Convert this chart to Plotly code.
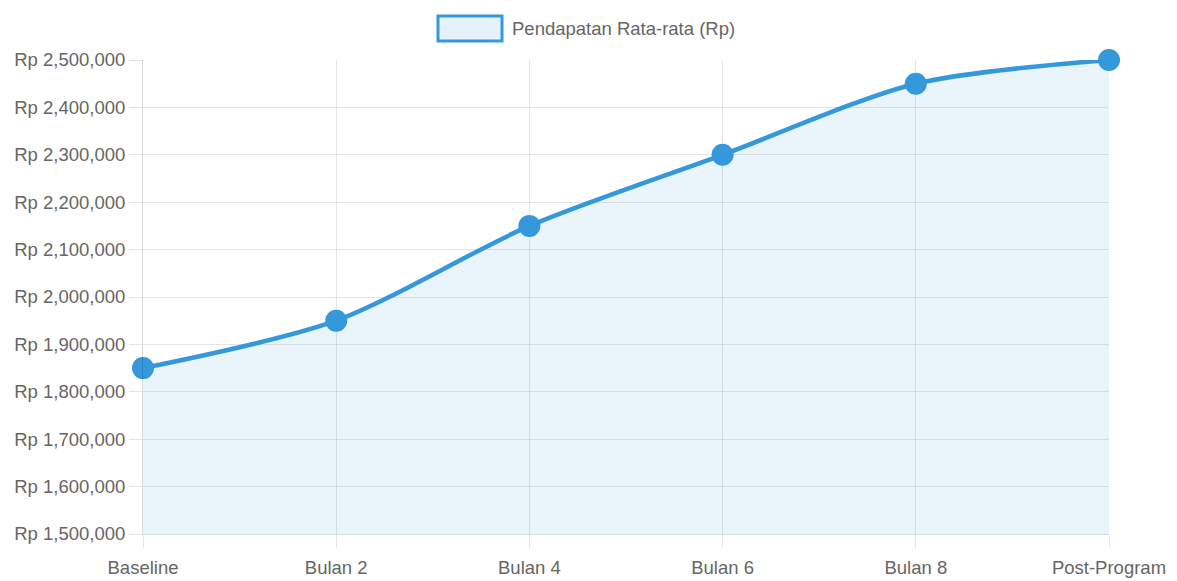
import plotly.graph_objects as go

categories = ["Baseline", "Bulan 2", "Bulan 4", "Bulan 6", "Bulan 8", "Post-Program"]
income = [1850000, 1950000, 2150000, 2300000, 2450000, 2500000]
series_name = "Pendapatan Rata-rata (Rp)"
y_ticks = [1500000, 1600000, 1700000, 1800000, 1900000, 2000000,
           2100000, 2200000, 2300000, 2400000, 2500000]
y_ticktext = ["Rp " + f"{v:,}" for v in y_ticks]

blue = "rgb(52,152,219)"
fill = "rgba(52,152,219,0.11)"
grid = "rgba(0,0,0,0.1)"
FAM = "Liberation Sans, Arial, sans-serif"
font = dict(family=FAM, size=18.5, color="#666")

OFF = 8  # page body margin
W, H = 1177, 581
pw, ph = 966, 474
L, T = 143 - OFF, 60 - OFF
R, B = W - L - pw, H - T - ph

fig = go.Figure()
fig.add_trace(go.Scatter(
    x=list(range(len(categories))), y=income, mode="lines+markers", name=series_name,
    line=dict(color=blue, width=4.5, shape="spline", smoothing=0.8),
    marker=dict(size=22, color=blue, line=dict(width=0)),
    fill="tozeroy", fillcolor=fill, cliponaxis=False, showlegend=False,
))

# legend drawn as box + text (Chart.js style); positions given in page pixels
def px_x(px):
    return (px - OFF - L) / pw

def px_y(py):
    return (T + ph - (py - OFF)) / ph

fig.add_shape(type="rect", xref="paper", yref="paper",
              x0=px_x(438), x1=px_x(502), y0=px_y(41), y1=px_y(16),
              line=dict(color=blue, width=3), fillcolor="rgba(52,152,219,0.12)")
fig.add_annotation(xref="paper", yref="paper", x=px_x(510), y=px_y(28.5),
                   xanchor="left", yanchor="middle", text=series_name,
                   showarrow=False, font=font)

fig.update_layout(
    width=W, height=H,
    margin=dict(l=L, r=R, t=T, b=B),
    paper_bgcolor="white", plot_bgcolor="white",
    font=font, showlegend=False,
    xaxis=dict(range=[0, 5], tickmode="array", tickvals=list(range(len(categories))),
               ticktext=categories, showgrid=True, gridcolor=grid, gridwidth=1,
               ticks="outside", ticklen=13, tickcolor=grid, showline=True,
               linecolor="rgba(0,0,0,0.15)", zeroline=False, tickfont=font,
               ticklabelstandoff=4, automargin=False),
    yaxis=dict(range=[1500000, 2500000], tickmode="array", tickvals=y_ticks,
               ticktext=y_ticktext, showgrid=True, gridcolor=grid,
               ticks="outside", ticklen=13, tickcolor=grid, showline=True,
               linecolor="rgba(0,0,0,0.15)", zeroline=False, tickfont=font,
               automargin=False),
)

fig.write_html("out.html")
